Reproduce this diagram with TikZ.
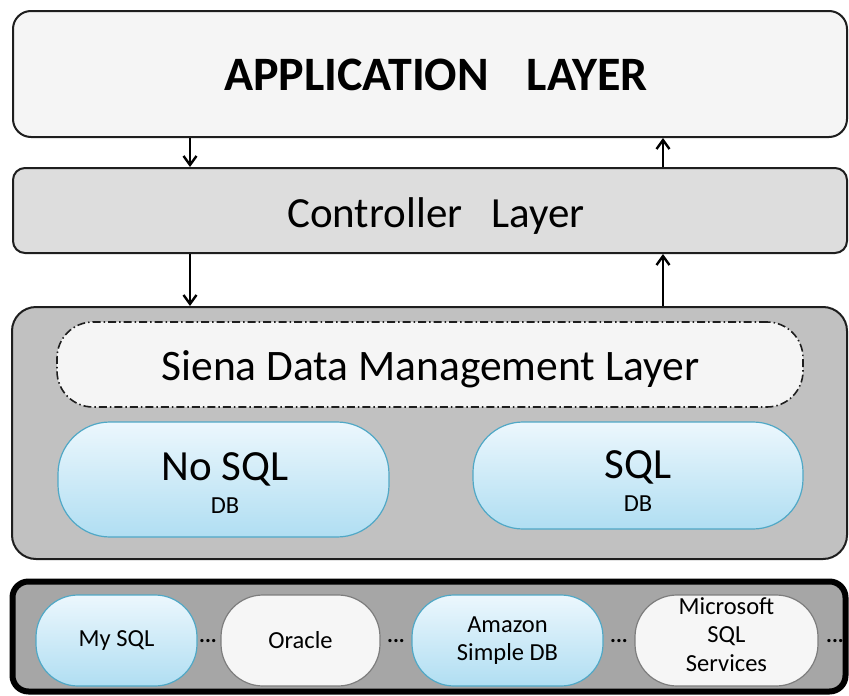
\documentclass[tikz,border=0pt]{standalone}
\usepackage{fontspec}
\setmainfont{Carlito}
\usetikzlibrary{arrows.meta}
\definecolor{appfill}{RGB}{245,245,245}
\definecolor{ctrlfill}{RGB}{221,221,221}
\definecolor{sienafill}{RGB}{193,193,193}
\definecolor{botfill}{RGB}{166,166,166}
\definecolor{edge}{RGB}{30,30,30}
\definecolor{blueedge}{RGB}{80,168,198}
\definecolor{bluetop}{RGB}{236,247,253}
\definecolor{bluebot}{RGB}{176,222,242}
\definecolor{whitefill}{RGB}{246,246,246}
\definecolor{grayedge}{RGB}{125,125,125}
\tikzset{
  layer/.style={draw=edge, line width=2pt, inner sep=0pt},
  bluepill/.style={draw=blueedge, line width=1.2pt, top color=bluetop, bottom color=bluebot, inner sep=0pt, align=center},
  whitepill/.style={draw=grayedge, line width=1.2pt, fill=whitefill, inner sep=0pt, align=center},
  arr/.style={draw=black, line width=2.4pt, -{Straight Barb[length=9pt,width=13pt,line width=2.4pt]}},
  dots/.style={inner sep=0pt, font=\fontsize{22}{24}\selectfont\bfseries},
  lbl/.style={inner sep=0pt, anchor=base}
}
\begin{document}
\begin{tikzpicture}[x=1pt,y=-1pt]
\useasboundingbox (0,0) rectangle (849,696);
\node[layer, fill=appfill, rounded corners=18pt, minimum width=834pt, minimum height=126pt] (app) at (430,74) {};
\node[lbl, font=\fontsize{48}{52}\selectfont\bfseries] (apptext) at (436,90) {APPLICATION\hspace{38pt}LAYER};
\node[layer, fill=ctrlfill, rounded corners=12pt, minimum width=834pt, minimum height=85pt] (ctrl) at (430,210.5) {};
\node[lbl, font=\fontsize{43}{48}\selectfont] (ctrltext) at (436,227) {Controller\ \ \ Layer};
\node[layer, fill=sienafill, rounded corners=24pt, minimum width=835pt, minimum height=252pt] (siena) at (429.5,433) {};
\node[draw=edge, line width=1.6pt, dash pattern=on 8pt off 3pt on 1.5pt off 3pt, fill=appfill, rounded corners=36pt, minimum width=746pt, minimum height=85pt, inner sep=0pt] (sdml) at (430,364.5) {};
\node[lbl, font=\fontsize{43.5}{46}\selectfont] (sdmltext) at (430.5,380) {Siena Data Management Layer};
\node[bluepill, rounded corners=52pt, minimum width=331pt, minimum height=115pt] (nosql) at (223.5,479.5) {};
\node[lbl, font=\fontsize{43}{46}\selectfont] (nosqlt) at (225,480) {No SQL};
\node[lbl, font=\fontsize{24.5}{26}\selectfont] (nosqldb) at (225,513) {DB};
\node[bluepill, rounded corners=50pt, minimum width=330pt, minimum height=107pt] (sql) at (638,475.5) {};
\node[lbl, font=\fontsize{43}{46}\selectfont] (sqlt) at (638,478) {SQL};
\node[lbl, font=\fontsize{24.5}{26}\selectfont] (sqldb) at (638,511) {DB};
\node[draw=black, line width=6pt, fill=botfill, rounded corners=16pt, minimum width=833pt, minimum height=110pt, inner sep=0pt] (bottom) at (429,636.5) {};
\node[bluepill, rounded corners=42pt, minimum width=161pt, minimum height=91pt, font=\fontsize{24.5}{28}\selectfont] (mysql) at (116.5,640.5) {My SQL};
\node[whitepill, rounded corners=42pt, minimum width=159pt, minimum height=91pt, font=\fontsize{24.5}{28}\selectfont] (oracle) at (300.5,640.5) {Oracle};
\node[bluepill, rounded corners=42pt, minimum width=191pt, minimum height=91pt, font=\fontsize{24.5}{28}\selectfont] (amazon) at (507.5,640.5) {Amazon\\Simple DB};
\node[whitepill, rounded corners=42pt, minimum width=183pt, minimum height=91pt] (ms) at (726.5,640.5) {};
\node[align=center, inner sep=0pt, font=\fontsize{24.5}{28.5}\selectfont] (mstext) at (726.5,634.5) {Microsoft\\SQL\\Services};
\node[dots] (d1) at (208,641) {...};
\node[dots] (d2) at (396,641) {...};
\node[dots] (d3) at (619,641) {...};
\node[dots] (d4) at (835,641) {...};
\coordinate (lx) at (190,0);
\coordinate (rx) at (663,0);
\draw[arr] (app.south -| lx) -- (ctrl.north -| lx);
\draw[arr] (ctrl.north -| rx) -- (app.south -| rx);
\draw[arr] (ctrl.south -| lx) -- (siena.north -| lx);
\draw[arr] (siena.north -| rx) -- (ctrl.south -| rx);
\end{tikzpicture}
\end{document}
